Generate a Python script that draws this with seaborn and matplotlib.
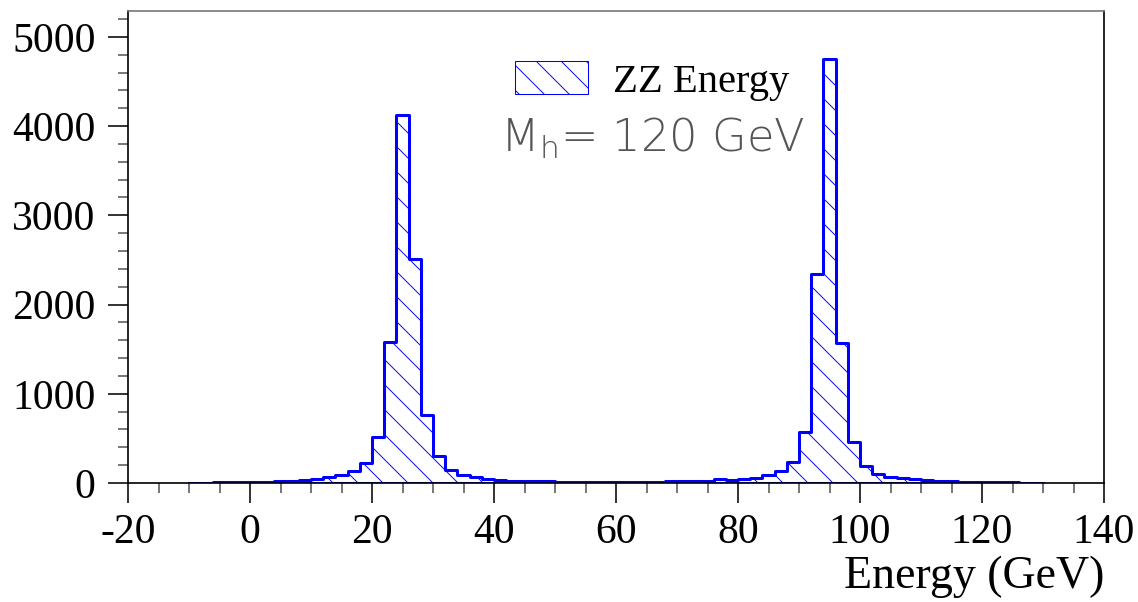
import numpy as np
import pandas as pd
import matplotlib
matplotlib.use("Agg")
import matplotlib.pyplot as plt
import seaborn as sns
from matplotlib.ticker import MultipleLocator

# ---- data ----
bin_start = -10
bin_width = 2
counts = [4, 5, 7, 9, 11, 13, 15, 20, 25, 34,
          48, 66, 88, 136, 228, 515, 1579, 4130, 2512, 765,
          300, 150, 95, 66, 45, 34, 28, 24, 20, 18,
          16, 15, 14, 13, 12, 12, 13, 14, 15, 17,
          19, 22, 26, 40, 32, 48, 60, 90, 140, 235,
          569, 2337, 4756, 1571, 463, 187, 101, 71, 52, 41,
          30, 22, 18, 15, 12, 10, 8, 6, 5, 4]
x_ticks = [-20, 0, 20, 40, 60, 80, 100, 120, 140]
y_ticks = [0, 1000, 2000, 3000, 4000, 5000]
legend_label = "ZZ Energy"
note_text = r"M$_\mathregular{h}$= 120 GeV"
x_title = "Energy (GeV)"

edges = [bin_start + bin_width * i for i in range(len(counts) + 1)]
centers = [e + bin_width / 2 for e in edges[:-1]]
df = pd.DataFrame({"energy": centers, "count": counts})

sns.set_style("ticks")
plt.rcParams["font.family"] = ["Liberation Serif", "DejaVu Serif"]
plt.rcParams["hatch.linewidth"] = 0.9
plt.rcParams["mathtext.fontset"] = "custom"
plt.rcParams["mathtext.rm"] = "DejaVu Sans:light"
plt.rcParams["text.color"] = "black"
plt.rcParams["xtick.color"] = "black"
plt.rcParams["ytick.color"] = "black"
plt.rcParams["xtick.labelcolor"] = "black"
plt.rcParams["ytick.labelcolor"] = "black"

DPI = 75
fig = plt.figure(figsize=(1138 / DPI, 602 / DPI), dpi=DPI)
fig.patch.set_facecolor("white")
ax = fig.add_axes([128 / 1138, 1 - 483 / 602, 976 / 1138, 472 / 602])

sns.histplot(data=df, x="energy", weights="count", bins=edges, element="step",
             fill=True, facecolor="white", edgecolor="#0000ff", hatch="\\",
             linewidth=2.9, alpha=1, label=legend_label, ax=ax)

ax.set_xlim(-20, 140)
ax.set_ylim(0, 5290)
ax.set_xticks(x_ticks)
ax.set_xticklabels([str(v) for v in x_ticks])
ax.set_yticks(y_ticks)
ax.set_yticklabels([str(v) for v in y_ticks])
ax.xaxis.set_minor_locator(MultipleLocator(5))
ax.yaxis.set_minor_locator(MultipleLocator(200))
ax.tick_params(axis="both", which="major", direction="out", length=19, width=1.5,
               labelsize=40, color="black", labelcolor="black")
ax.tick_params(axis="both", which="minor", direction="out", length=9.6, width=1.5,
               color="#555555")
ax.tick_params(axis="y", which="major", pad=12)
ax.tick_params(axis="x", which="major", pad=10)

for side in ["left", "right", "bottom", "top"]:
    ax.spines[side].set_visible(True)
    ax.spines[side].set_linewidth(1.6)
    ax.spines[side].set_color("black")
ax.spines["top"].set_color("#777777")

ax.set_ylabel("")
ax.set_xlabel(x_title, fontsize=44, ha="right", va="center", color="black")
ax.xaxis.set_label_coords(1.0, -0.199)

leg = ax.legend(loc="center", bbox_to_anchor=(0.537, 0.852), frameon=False,
                fontsize=39, handlelength=1.8, handleheight=0.86,
                handletextpad=0.6, borderpad=0, borderaxespad=0)
for h in leg.legend_handles:
    h.set_linewidth(1.0)
    h.set_edgecolor("#0000ff")
for t in leg.get_texts():
    t.set_color("black")

ax.text(0.537, 0.731, note_text, transform=ax.transAxes, ha="center", va="center",
        fontsize=43, color="#555555", family="DejaVu Sans", fontweight="light")

fig.savefig("out.png", dpi=DPI, facecolor="white")
